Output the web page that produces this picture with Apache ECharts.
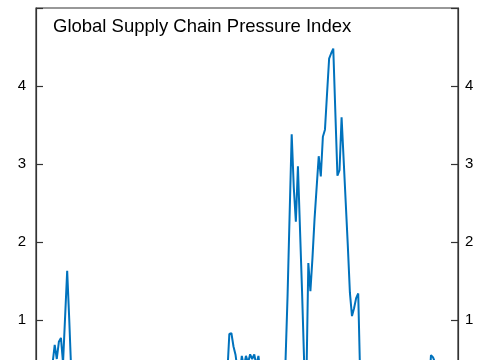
<!DOCTYPE html>
<html>
<head>
<meta charset="utf-8">
<script src="https://cdn.jsdelivr.net/npm/echarts@6/dist/echarts.min.js"></script>
<style>
html,body{margin:0;padding:0;background:#fff;}
#wrap{width:485px;height:360px;overflow:hidden;position:relative;}
#chart{width:485px;height:700px;}
</style>
</head>
<body>
<div id="wrap"><div id="chart"></div></div>
<script>
// Monthly GSCPI values, Jan 2010 onwards (hidden parts estimated)
var startYear = 2010;
var endYear = 2026; // x axis runs Jan 2010 .. Dec 2026
var v2010 = [0.2, 0.1, 0.15, 0.3, 0.2, 0.25, 0.35, 0.2, 0.45, 0.68, 0.50, 0.72];
var v2011 = [0.77, 0.45, 1.04, 1.63, 1.0, 0.3, 0.2, 0.1, 0.15, 0.0, -0.1, 0.05];
var v2012 = [-0.2, -0.1, 0.1, 0.0, -0.3, -0.2, -0.4, -0.3, -0.1, -0.2, 0.0, -0.1];
var v2013 = [-0.3, -0.2, -0.4, -0.5, -0.3, -0.2, -0.1, -0.3, -0.4, -0.2, -0.3, -0.1];
var v2014 = [-0.2, 0.0, -0.1, -0.3, -0.2, 0.1, 0.0, -0.1, 0.1, -0.2, -0.1, 0.0];
var v2015 = [0.1, -0.1, -0.3, -0.4, -0.6, -0.5, -0.7, -0.6, -0.8, -0.7, -0.5, -0.6];
var v2016 = [-0.8, -0.7, -0.5, -0.6, -0.4, -0.5, -0.3, -0.4, -0.2, -0.1, 0.0, 0.1];
var v2017 = [0.0, 0.2, 0.1, 0.3, 0.2, 0.35, 0.25, 0.3, 0.3, 0.82, 0.83, 0.66];
var v2018 = [0.55, 0.35, 0.3, 0.54, 0.4, 0.54, 0.45, 0.56, 0.5, 0.56, 0.42, 0.54];
var v2019 = [0.3, 0.2, 0.1, 0.0, -0.1, 0.1, 0.0, -0.2, -0.1, 0.0, -0.2, 0.1];
var v2020 = [0.45, 1.3, 2.35, 3.38, 2.7, 2.26, 2.97, 2.16, 1.35, 0.45, 0.1, 1.73];
var v2021 = [1.37, 1.8, 2.3, 2.7, 3.10, 2.84, 3.35, 3.44, 3.9, 4.35, 4.42, 4.48];
var v2022 = [3.66, 2.85, 2.92, 3.60, 3.05, 2.5, 1.95, 1.35, 1.05, 1.15, 1.28, 1.34];
var v2023 = [0.2, -0.3, -0.5, -0.7, -0.9, -1.0, -0.8, -0.6, -0.4, -0.2, 0.0, -0.1];
var v2024 = [0.1, -0.1, -0.3, -0.2, 0.0, -0.1, 0.1, 0.0, -0.2, -0.1, 0.1, 0.0];
var v2025 = [-0.2, 0.1, -0.1, 0.2, 0.0, -0.1, 0.1, 0.2, 0.0, 0.1, 0.55, 0.52];
var v2026 = [0.45, 0.3];
var yTicks = [1, 2, 3, 4];
var titleText = 'Global Supply Chain Pressure Index';

var values = [].concat(v2010, v2011, v2012, v2013, v2014, v2015, v2016, v2017,
  v2018, v2019, v2020, v2021, v2022, v2023, v2024, v2025, v2026);
var months = [];
for (var y = startYear; y <= endYear; y++) {
  for (var m = 1; m <= 12; m++) months.push(y + '-' + (m < 10 ? '0' + m : m));
}

var chart = echarts.init(document.getElementById('chart'), null, {renderer: 'canvas'});
var axisColor = '#333333';
var fontFam = 'Liberation Sans, Arial, sans-serif';
function yAxisCfg(pos, margin) {
  return {
    type: 'value', position: pos, min: -3, max: 5, interval: 1,
    axisLine: {show: true, lineStyle: {color: axisColor, width: 1.2}},
    axisTick: {show: true, inside: true, length: 7, lineStyle: {color: axisColor, width: 1.2}},
    splitLine: {show: false},
    axisLabel: {
      margin: margin, fontSize: 15, color: '#000', fontFamily: fontFam,
      formatter: function (v) { return yTicks.indexOf(v) >= 0 ? String(v) : ''; }
    }
  };
}
chart.setOption({
  animation: false,
  backgroundColor: '#fff',
  title: {
    text: titleText, left: 53, top: 17, padding: 0,
    textStyle: {fontSize: 18.5, fontWeight: 'normal', color: '#000', fontFamily: fontFam}
  },
  grid: {left: 36, top: 8, width: 422, height: 624, show: true, borderColor: axisColor, borderWidth: 1.2,
    backgroundColor: 'transparent', containLabel: false, outerBoundsMode: 'none'},
  xAxis: {
    type: 'category', data: months, boundaryGap: false,
    axisLine: {show: true, onZero: false, lineStyle: {color: axisColor}},
    axisTick: {show: false}, axisLabel: {show: false}, splitLine: {show: false}
  },
  yAxis: [yAxisCfg('left', 10), yAxisCfg('right', 7)],
  series: [{
    type: 'line', data: values, yAxisIndex: 0, showSymbol: false,
    lineStyle: {color: '#0072BD', width: 2}, itemStyle: {color: '#0072BD'}
  }]
});
</script>
</body>
</html>
